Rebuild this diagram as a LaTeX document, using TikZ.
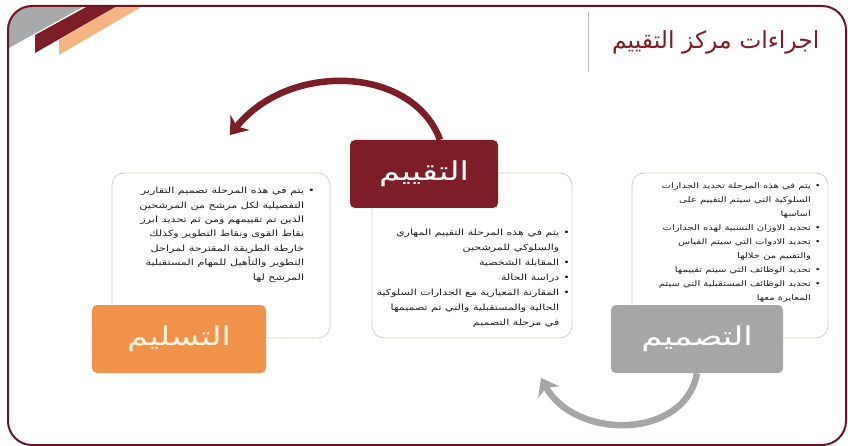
\documentclass[tikz,border=0pt]{standalone}
\usepackage{fontspec}
\usetikzlibrary{arrows.meta}
\TeXXeTstate=1
\newfontfamily\arabicfont[Script=Arabic]{DejaVu Sans}
\newfontfamily\arabicwide[Script=Arabic,FakeStretch=1.3]{DejaVu Sans}
\definecolor{wine}{HTML}{7C1D27}
\definecolor{framewine}{HTML}{6D1321}
\definecolor{peach}{HTML}{F5B483}
\definecolor{corner}{HTML}{A8A9AB}
\definecolor{orange}{HTML}{F0924B}
\definecolor{stone}{HTML}{A6A6A6}
\definecolor{cardline}{HTML}{D8D0C2}
\definecolor{ink}{HTML}{1E1E1E}
\definecolor{cream}{HTML}{FFF4DE}
\newcommand\bitem[1]{\beginR•\hspace{4pt}#1\endR}
\newcommand\bcont[1]{\beginR\hphantom{•}\hspace{4pt}#1\endR}
\tikzset{
  card/.style={draw=cardline,line width=0.8pt,fill=white,rounded corners=12pt,
    minimum height=165pt},
  stagebox/.style={rounded corners=5pt,minimum height=68pt,
    font=\arabicwide\fontsize{26}{30}\selectfont},
  bodytext/.style={align=right,text=ink,inner sep=0pt,anchor=north east,
    font=\arabicwide\fontsize{8.6}{14.4}\selectfont},
  cyclearrow/.style={line width=6.5pt,-{Stealth[length=16pt,width=24pt,inset=5pt]}}
}
\begin{document}
\begin{tikzpicture}[x=1pt,y=-1pt]
  \useasboundingbox (0,0) rectangle (848,446);
  % corner stripes
  \begin{scope}
    \clip[rounded corners=24pt] (8,6) rectangle (846,445);
    \fill[corner] (0,0)--(0,53)--(95,0)--cycle;
    \fill[peach] (59,40)--(59,55)--(143,6)--(117,6)--cycle;
    \fill[wine] (35,35)--(35,53)--(117,6)--(88,6)--cycle;
  \end{scope}
  \draw[framewine,line width=2pt,rounded corners=24pt] (8,6) rectangle (846,445);
  % title
  \draw[black!25,line width=0.8pt] (588,12)--(588,72);
  \node[anchor=east,text=wine,font=\arabicfont\fontsize{23.5}{28}\selectfont] (title)
    at (823,42) {\beginR اجراءات مركز التقييم\endR};
  % cards
  \node[card,minimum width=218pt] (leftcard) at (221,255.5) {};
  \node[card,minimum width=200pt] (midcard) at (472,255.5) {};
  \node[card,minimum width=196pt] (rightcard) at (730,255.5) {};
  \node[bodytext] (lefttxt) at (315,187) {%
    \bitem{يتم في هذه المرحلة تصميم التقارير}\\
    \bcont{التفصيلية لكل مرشح من المرشحين}\\
    \bcont{الذين تم تقييمهم ومن ثم تحديد ابرز}\\
    \bcont{نقاط القوى ونقاط التطوير وكذلك}\\
    \bcont{خارطة الطريقة المقترحة لمراحل}\\
    \bcont{التطوير والتأهيل للمهام المستقبلية}\\
    \bcont{المرشح لها}};
  \node[bodytext,font=\arabicwide\fontsize{8.5}{15}\selectfont] (midtxt) at (570,229) {%
    \bitem{يتم في هذه المرحلة التقييم المهاري}\\
    \bcont{والسلوكي للمرشحين}\\
    \bitem{المقابلة الشخصية}\\
    \bitem{دراسة الحالة}\\
    \bitem{المقارنة المعيارية مع الجدارات السلوكية}\\
    \bcont{الحالية والمستقبلية والتي تم تصميمها}\\
    \bcont{في مرحلة التصميم}};
  \node[bodytext,font=\arabicwide\fontsize{7.7}{14}\selectfont] (righttxt) at (821,182) {%
    \bitem{يتم في هذه المرحلة تحديد الجدارات}\\
    \bcont{السلوكية التي سيتم التقييم على}\\
    \bcont{اساسها}\\
    \bitem{تحديد الاوزان النسبية لهذه الجدارات}\\
    \bitem{تحديد الادوات التي سيتم القياس}\\
    \bcont{والتقييم من خلالها}\\
    \bitem{تحديد الوظائف التي سيتم تقييمها}\\
    \bitem{تحديد الوظائف المستقبلية التي سيتم}\\
    \bcont{المعايرة معها}};
  % stage boxes
  \node[stagebox,fill=wine,text=white,minimum width=148pt] (eval) at (424,174)
    {\beginR التقييم\endR};
  \node[stagebox,fill=orange,text=cream,minimum width=174pt] (handover) at (179,339)
    {\beginR التسليم\endR};
  \node[stagebox,fill=stone,text=white,minimum width=172pt] (design) at (697,339)
    {\beginR التصميم\endR};
  % cycle arrows
  \coordinate (evaltip) at (230,135);
  \coordinate (designtip) at (541,378);
  \draw[cyclearrow,wine] ([xshift=16pt]eval.north) .. controls (412,65) and (288,62) .. (evaltip);
  \draw[cyclearrow,stone] (design.south) .. controls (685,440) and (575,440) .. (designtip);
\end{tikzpicture}
\end{document}
